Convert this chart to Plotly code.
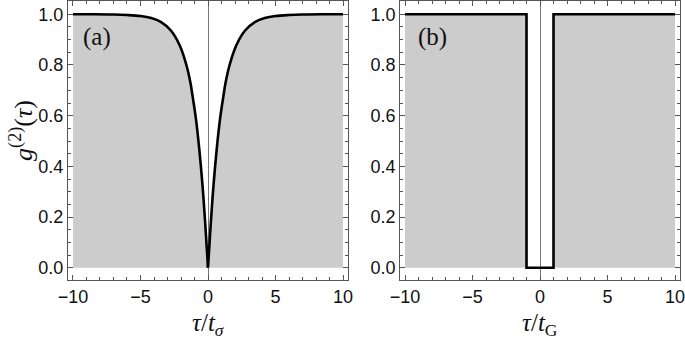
import plotly.graph_objects as go

# (a) g2 versus tau / t_sigma, right and left branches (cusp at tau = 0)
tau_a_right = [0, 0.2, 0.4, 0.65, 0.9, 1.15, 1.3, 1.6, 2.1, 2.75, 3.5, 4.2, 5, 6, 7, 8.5, 10]
g2_a_right = [0, 0.17, 0.32, 0.47, 0.59, 0.68, 0.73, 0.80, 0.878, 0.936, 0.97, 0.985, 0.993, 0.997, 0.999, 1.0, 1.0]
tau_a_left = [-10, -8.5, -7, -6, -5, -4.2, -3.5, -2.75, -2.1, -1.6, -1.3, -1.15, -0.9, -0.65, -0.4, -0.2, 0]
g2_a_left = [1.0, 1.0, 0.999, 0.997, 0.993, 0.985, 0.97, 0.936, 0.878, 0.80, 0.73, 0.68, 0.59, 0.47, 0.32, 0.17, 0]

# (b) g2 versus tau / t_G: rectangular dip of width 2
tau_b = [-10, -1, -1, 1, 1, 10]
g2_b = [1, 1, 0, 0, 1, 1]

x_ticks = [-10, -5, 0, 5, 10]
x_tick_text = ["\u221210", "\u22125", "0", "5", "10"]
y_ticks = [0.0, 0.2, 0.4, 0.6, 0.8, 1.0]
y_tick_text = ["0.0", "0.2", "0.4", "0.6", "0.8", "1.0"]

FILL = "#cccccc"
LINE = dict(color="black", width=2.6)

fig = go.Figure()

for xs, ys in [(tau_a_left, g2_a_left), (tau_a_right, g2_a_right)]:
    fig.add_trace(go.Scatter(x=xs, y=ys, mode="lines", line=dict(shape="spline", **LINE),
                             fill="tozeroy", fillcolor=FILL, xaxis="x", yaxis="y",
                             showlegend=False, hoverinfo="skip"))

fig.add_trace(go.Scatter(x=tau_b, y=g2_b, mode="lines", line=LINE,
                         fill="tozeroy", fillcolor=FILL, xaxis="x2", yaxis="y2",
                         showlegend=False, hoverinfo="skip"))

tickfont = dict(family="Liberation Sans, Arial, sans-serif", size=18, color="#111111")
frame = "#555555"

xcommon = dict(range=[-10.37, 10.37], tickmode="array", tickvals=x_ticks, ticktext=x_tick_text,
               ticks="inside", ticklen=5, tickwidth=1, tickcolor=frame,
               minor=dict(dtick=1, ticks="inside", ticklen=3, tickcolor=frame, tickwidth=1),
               showline=True, linecolor=frame, linewidth=1, mirror="ticks",
               showgrid=False, zeroline=True, zerolinecolor="#777777", zerolinewidth=1.3,
               tickfont=tickfont, ticklabeloverflow="allow", fixedrange=True)
ycommon = dict(range=[-0.0485, 1.0525], tickmode="array", tickvals=y_ticks, ticktext=y_tick_text,
               ticks="inside", ticklen=5, tickwidth=1, tickcolor=frame,
               minor=dict(dtick=0.05, tick0=0, ticks="inside", ticklen=3, tickcolor=frame, tickwidth=1),
               showline=True, linecolor=frame, linewidth=1, mirror="ticks",
               showgrid=False, zeroline=False, tickfont=tickfont, fixedrange=True)

fig.update_layout(
    width=685, height=340,
    margin=dict(l=68, r=5, t=1, b=60),
    paper_bgcolor="white", plot_bgcolor="white",
    xaxis=dict(domain=[0, 0.4575], anchor="y", **xcommon),
    yaxis=dict(domain=[0, 1], anchor="x", **ycommon),
    xaxis2=dict(domain=[0.5425, 1], anchor="y2", **xcommon),
    yaxis2=dict(domain=[0, 1], anchor="x2", **ycommon),
)

serif = "Liberation Serif, Times New Roman, serif"
annotations = [
    dict(text="<i>g</i><sup>(2)</sup>(<i>\u03c4</i>)", x=-0.0770, y=0.5376, textangle=-90,
         font=dict(family=serif, size=26, color="#111111")),
    dict(text="<i>\u03c4</i>/<i>t</i><sub><i>\u03c3</i></sub>", x=0.2288, y=-0.158,
         font=dict(family=serif, size=25, color="#111111")),
    dict(text="<i>\u03c4</i>/<i>t</i><sub>G</sub>", x=0.7712, y=-0.158,
         font=dict(family=serif, size=25, color="#111111")),
    dict(text="(a)", x=0.0474, y=0.871, font=dict(family=serif, size=25, color="#111111")),
    dict(text="(b)", x=0.5948, y=0.871, font=dict(family=serif, size=25, color="#111111")),
]
for a in annotations:
    fig.add_annotation(xref="paper", yref="paper", showarrow=False,
                       xanchor="center", yanchor="middle", **a)

fig.write_html("out.html")
